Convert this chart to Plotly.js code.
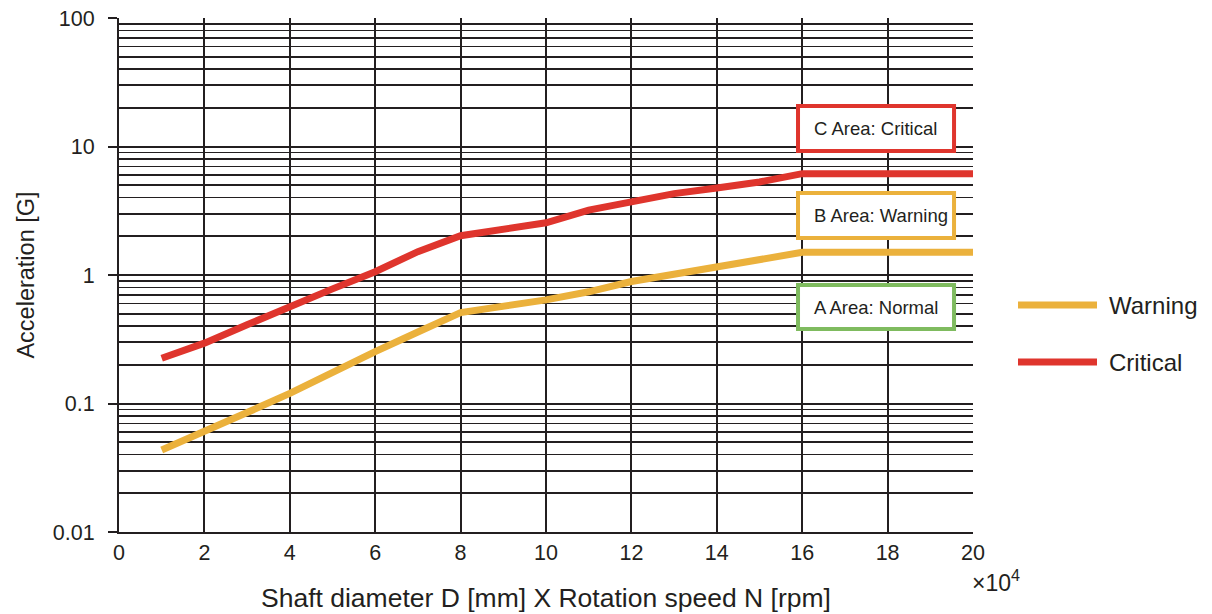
<!DOCTYPE html>
<html>
<head>
<meta charset="utf-8">
<script src="https://cdn.plot.ly/plotly-3.0.1.min.js"></script>
<style>html,body{margin:0;padding:0;background:#fff;}#chart{width:1212px;height:614px;}</style>
</head>
<body>
<div id="chart"></div>
<script>
// Data
const warningX = [1, 2, 3, 4, 5, 6, 7, 8, 10, 11, 12, 14, 16, 20];
const warningY = [0.0435, 0.060, 0.085, 0.12, 0.177, 0.253, 0.36, 0.51, 0.64, 0.74, 0.89, 1.16, 1.5, 1.5];
const criticalX = [1, 2, 3, 4, 5, 6, 7, 8, 10, 11, 12, 13, 14, 15, 16, 20];
const criticalY = [0.225, 0.295, 0.41, 0.57, 0.78, 1.06, 1.52, 2.02, 2.55, 3.2, 3.7, 4.3, 4.75, 5.3, 6.15, 6.15];
const seriesNames = ["Warning", "Critical"];
const areaLabels = ["C Area: Critical", "B Area: Warning", "A Area: Normal"];
const yTickVals = [0.01, 0.1, 1, 10, 100];
const yTickText = ["0.01", "0.1", "1", "10", "100"];
const xTickVals = [0, 2, 4, 6, 8, 10, 12, 14, 16, 18, 20];

const INK = '#231f20';
const ORANGE = '#EBB13C';
const RED = '#DF352D';
const GREEN = '#7FBB5F';
const FONT = 'Liberation Sans, Arial, Helvetica, sans-serif';

const traces = [
  {x: warningX, y: warningY, name: seriesNames[0], mode: 'lines', type: 'scatter',
   line: {color: ORANGE, width: 7, shape: 'linear'}, showlegend: false, hoverinfo: 'x+y'},
  {x: criticalX, y: criticalY, name: seriesNames[1], mode: 'lines', type: 'scatter',
   line: {color: RED, width: 7, shape: 'linear'}, showlegend: false, hoverinfo: 'x+y'}
];

function boxRect(y0, y1, color) {
  return {type: 'rect', xref: 'paper', yref: 'paper', x0: 0.7951, x1: 0.9778, y0: y0, y1: y1,
    fillcolor: '#ffffff', line: {color: color, width: 4}, layer: 'above'};
}
function boxText(text, y) {
  return {xref: 'paper', yref: 'paper', x: 0.8115, y: y, xanchor: 'left', yanchor: 'middle',
    text: text, showarrow: false, font: {family: FONT, size: 18.5, color: INK}};
}

const layout = {
  width: 1212, height: 614,
  margin: {l: 119, r: 239, t: 18, b: 82},
  paper_bgcolor: '#ffffff', plot_bgcolor: '#ffffff',
  font: {family: FONT, color: INK, size: 21},
  showlegend: false,
  xaxis: {
    range: [0, 20], tickvals: xTickVals, showgrid: true, gridcolor: INK, gridwidth: 2,
    zeroline: false, showline: true, linecolor: INK, linewidth: 2, ticks: '',
    tickfont: {family: FONT, size: 21.5, color: INK}, ticklabelstandoff: 0,
    title: {text: 'Shaft diameter D [mm] X Rotation speed N [rpm]', font: {family: FONT, size: 26.5, color: INK}, standoff: 25}
  },
  yaxis: {
    type: 'log', range: [-2, 2], tickvals: yTickVals, ticktext: yTickText,
    showgrid: true, gridcolor: INK, gridwidth: 2, zeroline: false,
    showline: true, linecolor: INK, linewidth: 2, ticks: 'outside', ticklen: 9, tickwidth: 2, tickcolor: INK,
    tickfont: {family: FONT, size: 21.5, color: INK}, ticklabelstandoff: 9,
    minor: {dtick: 'D1', showgrid: true, gridcolor: INK, gridwidth: 1.7, ticks: ''},
    title: {text: 'Acceleration [G]', font: {family: FONT, size: 23.5, color: INK}, standoff: 12}
  },
  shapes: [
    boxRect(0.7412, 0.8288, RED),
    boxRect(0.5720, 0.6595, ORANGE),
    boxRect(0.3949, 0.4805, GREEN),
    {type: 'line', xref: 'paper', yref: 'paper', x0: 1.0527, x1: 1.1452, y0: 0.4416, y1: 0.4416,
     line: {color: ORANGE, width: 7}},
    {type: 'line', xref: 'paper', yref: 'paper', x0: 1.0527, x1: 1.1452, y0: 0.3307, y1: 0.3307,
     line: {color: RED, width: 7}}
  ],
  annotations: [
    boxText(areaLabels[0], 0.785),
    boxText(areaLabels[1], 0.6158),
    boxText(areaLabels[2], 0.4377),
    {xref: 'paper', yref: 'paper', x: 1.157, y: 0.4416, xanchor: 'left', yanchor: 'middle',
     text: seriesNames[0], showarrow: false, font: {family: FONT, size: 24, color: INK}},
    {xref: 'paper', yref: 'paper', x: 1.157, y: 0.3307, xanchor: 'left', yanchor: 'middle',
     text: seriesNames[1], showarrow: false, font: {family: FONT, size: 24, color: INK}},
    {xref: 'paper', yref: 'paper', x: 0.996, y: -0.062, xanchor: 'left', yanchor: 'top',
     text: '×10<sup>4</sup>', showarrow: false, font: {family: FONT, size: 23, color: INK}}
  ]
};

Plotly.newPlot('chart', traces, layout, {staticPlot: true, displayModeBar: false});
</script>
</body>
</html>
